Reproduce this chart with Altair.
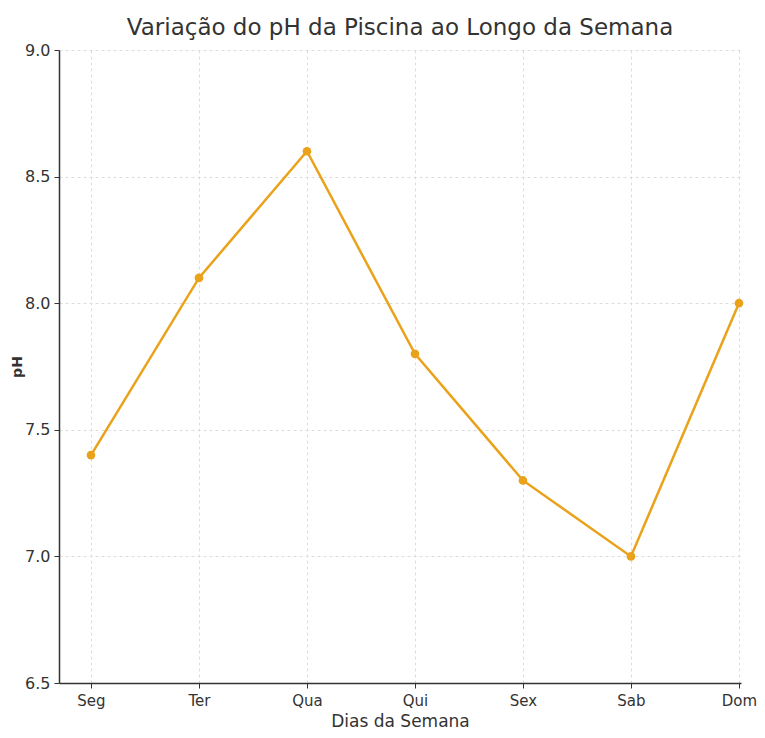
import altair as alt
import pandas as pd

days = ["Seg", "Ter", "Qua", "Qui", "Sex", "Sab", "Dom"]
ph_values = [7.4, 8.1, 8.6, 7.8, 7.3, 7.0, 8.0]

df = pd.DataFrame({"idx": list(range(len(days))), "dia": days, "ph": ph_values})

FONT = "DejaVu Sans"
COLOR = "#E9A21A"

label_expr = "[" + ",".join(f"'{d}'" for d in days) + "][datum.value]"

x = alt.X("idx:Q", title="Dias da Semana",
          scale=alt.Scale(domain=[-0.296, 6.019], nice=False, zero=False),
          axis=alt.Axis(values=list(range(len(days))), labelExpr=label_expr,
                        grid=True, gridDash=[3, 3], gridColor="#dddddd",
                        domainColor="#333333", domainWidth=1.5,
                        tickColor="#333333", tickSize=5,
                        labelFont=FONT, labelFontSize=15, labelColor="#333333",
                        labelPadding=5, titleFont=FONT, titleFontSize=17,
                        titleFontWeight="normal", titleColor="#333333",
                        titlePadding=5))
y = alt.Y("ph:Q", title="pH",
          scale=alt.Scale(domain=[6.5, 9.0], nice=False, zero=False),
          axis=alt.Axis(values=[6.5, 7.0, 7.5, 8.0, 8.5, 9.0], format=".1f",
                        grid=True, gridDash=[3, 3], gridColor="#dddddd",
                        domainColor="#333333", domainWidth=1.5,
                        tickColor="#333333", tickSize=5,
                        labelFont=FONT, labelFontSize=16, labelColor="#333333",
                        labelPadding=4, titleFont=FONT, titleFontSize=14,
                        titleFontWeight="bold", titleColor="#333333",
                        titlePadding=0))

base = alt.Chart(df).encode(x=x, y=y)
line = base.mark_line(color=COLOR, strokeWidth=2.5)
pts = base.mark_circle(color=COLOR, size=75, opacity=1)

chart = (line + pts).properties(
    width=682, height=633,
    title=alt.TitleParams("Variação do pH da Piscina ao Longo da Semana",
                          font=FONT, fontSize=23, fontWeight="normal",
                          color="#333333", offset=2),
    autosize=alt.AutoSizeParams(type="none"),
    padding={"left": 51, "top": 42, "right": 16, "bottom": 47},
).configure_view(stroke=None)

chart.save("out.html", embed_options={"renderer": "svg", "actions": False})
